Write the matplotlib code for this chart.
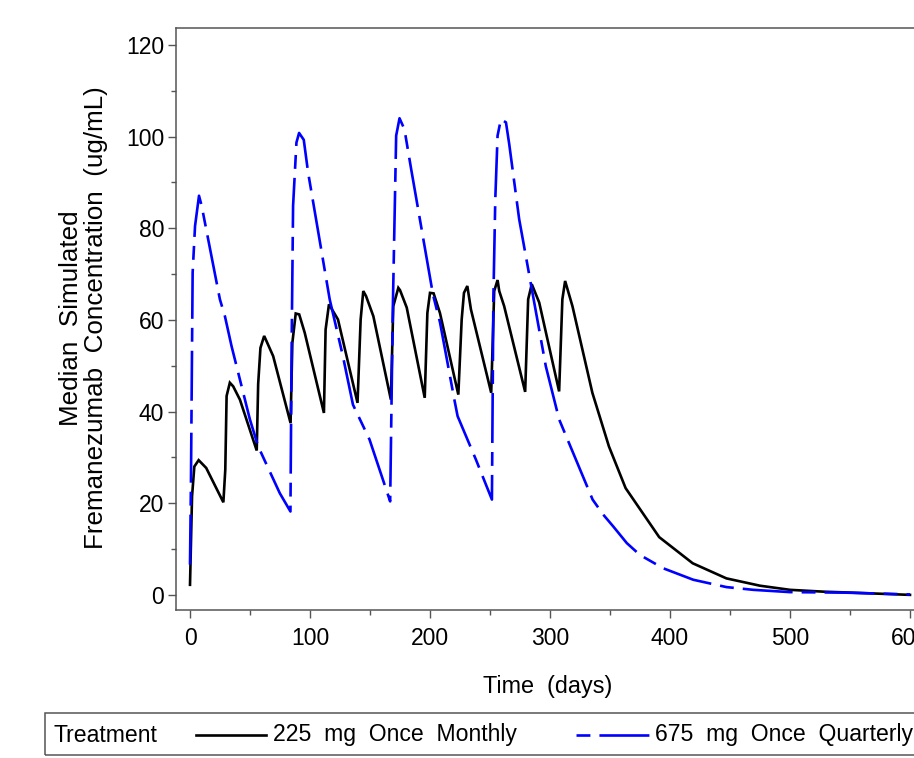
import matplotlib
matplotlib.use("Agg")
import matplotlib.pyplot as plt
from matplotlib.lines import Line2D
from matplotlib.patches import Rectangle
from matplotlib.ticker import MultipleLocator

# 225 mg once monthly
t_monthly = [0, 1.7, 3.6, 7.2, 13.5, 27.8, 29.4, 30.5, 33.2, 36.0, 41.6, 55.6,
             56.8, 58.7, 61.8, 63.7, 69.3, 83.8, 85.3, 88.1, 91.0, 95.6, 111.6,
             113.0, 115.8, 119.0, 123.3, 139.6, 142.2, 144.4, 146.7, 152.8, 167.4,
             169.4, 173.6, 175.0, 180.6, 195.6, 197.8, 200.0, 203.0, 208.3, 223.6,
             226.4, 228.3, 231.1, 234.1, 251.0, 253.5, 256.3, 257.7, 261.8, 279.3,
             281.8, 284.8, 291.0, 307.6, 310.3, 312.6, 318.7, 335.3, 349.1, 363.0,
             391.0, 418.9, 447.0, 475.0, 500.0, 528.0, 550.0, 600.0]
c_monthly = [2.2, 21.5, 28.0, 29.4, 27.7, 20.2, 27.3, 43.4, 46.3, 45.5, 42.6, 31.5,
             46.0, 53.9, 56.5, 55.4, 52.1, 37.5, 55.0, 61.4, 61.2, 57.2, 39.7,
             57.9, 63.4, 62.0, 60.1, 41.9, 60.1, 66.3, 65.2, 60.8, 42.6,
             63.0, 67.0, 66.5, 62.7, 43.0, 61.5, 65.9, 65.8, 61.5, 43.7,
             60.1, 65.9, 67.4, 62.3, 44.1, 66.3, 68.7, 66.3, 63.0, 44.3,
             64.5, 67.8, 63.8, 44.4, 64.5, 68.5, 63.0, 44.1, 32.4, 23.3,
             12.6, 6.9, 3.6, 2.0, 1.1, 0.7, 0.5, 0.0]

# 675 mg once quarterly
t_quarterly = [0, 0.8, 2.2, 4.2, 7.5, 9.7, 24.9, 29.1, 34.6, 49.9, 56.8, 74.8, 83.7,
               84.2, 84.8, 85.9, 88.7, 90.9, 94.8, 98.4, 116.4, 127.4, 135.8, 149.6,
               166.8, 169.0, 171.8, 174.6, 178.7, 184.3, 202.5, 208.3, 220.3, 223.0,
               238.3, 251.6, 252.0, 252.8, 254.4, 256.3, 259.1, 263.3, 266.0, 274.3,
               285.4, 296.5, 307.6, 335.5, 344.4, 352.8, 364.0, 375.0, 394.4, 419.4,
               447.0, 469.4, 500.0, 544.0, 600.0]
c_quarterly = [6.6, 25.0, 70.3, 80.5, 87.1, 84.9, 64.5, 60.8, 54.3, 38.3, 32.4, 22.2, 18.2,
               36.8, 57.2, 84.9, 98.7, 100.8, 99.3, 92.2, 64.5, 52.1, 41.5, 33.9,
               20.4, 62.3, 100.2, 104.0, 101.6, 92.9, 65.5, 59.5, 42.6, 39.0,
               29.5, 20.8, 35.4, 64.5, 86.3, 100.2, 103.8, 103.1, 98.4, 82.0,
               65.9, 49.9, 38.3, 20.8, 17.5, 14.9, 11.3, 8.7, 5.8, 3.3,
               1.7, 1.1, 0.6, 0.5, 0.1]

x_ticks = [0, 100, 200, 300, 400, 500, 600]
y_ticks = [0, 20, 40, 60, 80, 100, 120]
# double spaces mimic the wide word spacing of the original font
labels = ["225  mg  Once  Monthly", "675  mg  Once  Quarterly"]

plt.rcParams['font.family'] = ['Liberation Sans', 'DejaVu Sans']
plt.rcParams['lines.scale_dashes'] = False

W, H = 914, 758
fig = plt.figure(figsize=(W / 100, H / 100), dpi=100)

def fx(px):
    return px / W

def fy(py):
    return (H - py) / H

gray = '#555555'
ax = fig.add_axes([fx(176), fy(610), 758 / W, 582 / H])
ax.plot(t_monthly, c_monthly, color='black', lw=1.9, solid_joinstyle='miter')
ax.plot(t_quarterly, c_quarterly, color='blue', lw=1.9, dashes=(36, 6.5, 10, 6.5))

ax.set_xlim(-11.67, 620)
ax.set_ylim(-3.3, 123.7)
ax.set_xticks(x_ticks)
ax.set_yticks(y_ticks)
ax.xaxis.set_minor_locator(MultipleLocator(50))
ax.yaxis.set_minor_locator(MultipleLocator(10))
ax.tick_params(which='major', length=5.5, width=1, color=gray, labelsize=16.5, pad=3)
ax.tick_params(which='minor', length=3.5, width=1, color=gray)
ax.tick_params(axis='x', which='major', pad=7)
for s in ax.spines.values():
    s.set_color(gray)
    s.set_linewidth(1.1)

ax.set_xlabel("Time  (days)", fontsize=16.8)
ax.xaxis.set_label_coords(0.491, -0.112)
ax.set_ylabel("Median  Simulated\nFremanezumab  Concentration  (ug/mL)", fontsize=18.7, linespacing=1.05)
ax.yaxis.set_label_coords(-0.0897, 0.502)

# legend box along the bottom
fig.patches.append(Rectangle((fx(45), fy(755)), 1.0, fy(713) - fy(755), transform=fig.transFigure,
                             fill=False, edgecolor=gray, lw=1.1))
ty = fy(735)
fig.text(fx(54), ty, "Treatment", fontsize=16.6, va='center')
fig.lines.append(Line2D([fx(196), fx(266)], [ty, ty], transform=fig.transFigure, color='black', lw=1.9))
fig.text(fx(273), ty, labels[0], fontsize=16.6, va='center')
fig.lines.append(Line2D([fx(576), fx(649)], [ty, ty], transform=fig.transFigure, color='blue', lw=1.9,
                        dashes=(10, 6.5, 36, 6.5)))
fig.text(fx(655), ty, labels[1], fontsize=16.6, va='center')

fig.savefig("out.png", dpi=100)
